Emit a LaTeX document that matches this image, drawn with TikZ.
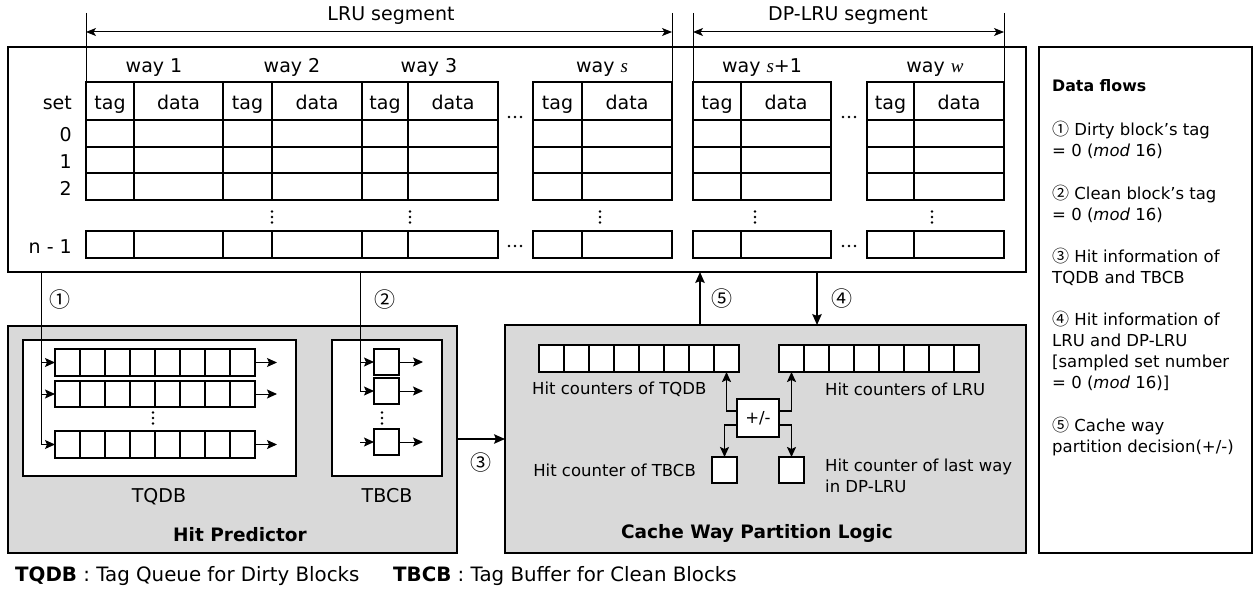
\documentclass[tikz,border=0pt]{standalone}
\usepackage{fontspec}
\setmainfont{DejaVu Sans}
\newfontfamily\serifitalic{Liberation Serif}
\newfontfamily\cjk{Noto Sans CJK KR}
\usetikzlibrary{arrows.meta,fit}
\definecolor{panelgray}{HTML}{D9D9D9}
\newcommand\mybox[6][]{%
  \path (#3,#4) coordinate (#2-nw) (#5,#6) coordinate (#2-se);
  \node[inner sep=0pt, outer sep=0pt, fit=(#2-nw)(#2-se), #1] (#2) {};}
\newcommand\cellrow[6]{% name, x, y, n, w, h
  \pgfmathsetmacro\cre{#2+#4*#5}%
  \pgfmathsetmacro\crb{#3+#6}%
  \pgfmathtruncatemacro\crn{#4-1}%
  \mybox[cellbox]{#1}{#2}{#3}{\cre}{\crb}
  \foreach \k in {1,...,\crn} {\draw[boxline] ({#2+\k*#5},#3) -- ({#2+\k*#5},\crb);}
}
\newcommand\cacheway[3]{% xleft, xsplit, xright
  \draw[boxline] (#1,82) rectangle (#3,200);
  \foreach \yy in {120,147,173} {\draw[boxline] (#1,\yy) -- (#3,\yy);}
  \draw[boxline] (#2,82) -- (#2,200);
  \draw[boxline] (#1,231) rectangle (#3,258);
  \draw[boxline] (#2,231) -- (#2,258);
  \node[tbl] at ({(#1+#2)/2},110) {tag};
  \node[tbl] at ({(#2+#3)/2},110) {data};
}
\newcommand\hdotsat[2]{\foreach \dd in {-6,0,6} {\fill ({#1+\dd},#2) circle (1.3pt);}}
\newcommand\vdotsat[2]{\foreach \dd in {-5.5,0,5.5} {\fill (#1,{#2+\dd}) circle (1.3pt);}}
\newcommand\cnum[1]{{\cjk\fontsize{17}{20}\selectfont #1}}
\begin{document}
\begin{tikzpicture}[x=1pt,y=-1pt,
  boxline/.style={line width=1.7pt},
  cellbox/.style={draw, line width=1.7pt, fill=white},
  frame/.style={draw, line width=1.6pt},
  thinline/.style={line width=1pt},
  arr/.style={line width=1pt, -{Stealth[length=10pt,width=9pt,inset=2pt]}},
  arrb/.style={line width=1.3pt, -{Stealth[length=11pt,width=9.5pt,inset=2pt]}},
  arrc/.style={line width=1.7pt, -{Stealth[length=10pt,width=9pt,inset=2pt]}},
  segarr/.style={line width=1pt, {Stealth[length=10pt,width=8pt,inset=2.5pt]}-{Stealth[length=10pt,width=8pt,inset=2.5pt]}},
  tbl/.style={font=\fontsize{19}{22}\selectfont, inner sep=0pt, anchor=base},
  lo/.style={font=\fontsize{16.5}{20}\selectfont, inner sep=0pt},
  ttl/.style={font=\fontsize{18.5}{22}\selectfont\bfseries, inner sep=0pt, anchor=base},
  num/.style={font=\cjk\fontsize{21}{22}\selectfont, inner sep=0pt},
  rp/.style={font=\fontsize{16.5}{20}\selectfont, inner sep=0pt, anchor=base west},
  leg/.style={font=\fontsize{19.8}{22}\selectfont, inner sep=0pt, anchor=base west}]
\fill[white] (0,0) rectangle (1253,591);
\useasboundingbox (0,0) rectangle (1253,591);

% ---- segment markers ----
\coordinate (e1t) at (86,13);  \coordinate (e1b) at (86,82);
\coordinate (e2t) at (672,13); \coordinate (e2b) at (672,82);
\coordinate (e3t) at (693,13); \coordinate (e3b) at (693,82);
\coordinate (e4t) at (1004,13);\coordinate (e4b) at (1004,82);
\draw[thinline] (e1t) -- (e1b);
\draw[thinline] (e2t) -- (e2b);
\draw[thinline] (e3t) -- (e3b);
\draw[thinline] (e4t) -- (e4b);
\coordinate (s1a) at (86,32);  \coordinate (s1b) at (672,32);
\coordinate (s2a) at (693,32); \coordinate (s2b) at (1004,32);
\draw[segarr] (s1a) -- (s1b);
\draw[segarr] (s2a) -- (s2b);
\node[tbl] (lruseg) at (391,21) {LRU segment};
\node[tbl] (dpseg) at (848,21) {DP-LRU segment};

% ---- cache ----
\mybox[frame]{cache}{8}{47}{1026}{272}
\cacheway{86}{134}{223}
\cacheway{223}{272}{362}
\cacheway{362}{408}{498}
\cacheway{533}{582}{672}
\cacheway{693}{741}{831}
\cacheway{867}{914}{1004}
\node[tbl] (w1) at (154,73) {way 1};
\node[tbl] (w2) at (292,73) {way 2};
\node[tbl] (w3) at (429,73) {way 3};
\node[tbl] (ws) at (602,73) {way {\serifitalic\itshape s}};
\node[tbl] (ws1) at (762,73) {way {\serifitalic\itshape s}+1};
\node[tbl] (ww) at (935,73) {way {\serifitalic\itshape w}};
\node[tbl, anchor=base east] (setl) at (72,110) {set};
\node[tbl, anchor=base east] (r0) at (72,141.7) {0};
\node[tbl, anchor=base east] (r1) at (72,168.3) {1};
\node[tbl, anchor=base east] (r2) at (72,195) {2};
\node[tbl, anchor=base east] (rn) at (72,253.3) {n - 1};
\hdotsat{515}{117}
\hdotsat{515}{246}
\hdotsat{849}{117}
\hdotsat{849}{246}
\vdotsat{272}{217}
\vdotsat{410}{217}
\vdotsat{600}{217}
\vdotsat{755}{217}
\vdotsat{932}{217}

% ---- data flows panel ----
\mybox[frame]{flows}{1039}{47}{1252}{553}
\node[rp, font=\fontsize{15.8}{20}\selectfont\bfseries] (dft) at (1052,91.7) {Data flows};
\node[rp] (f1a) at (1052,136) {\cnum{①} Dirty block’s tag};
\node[rp] (f1b) at (1052,157) {= 0 (\textit{mod} 16)};
\node[rp] (f2a) at (1052,199) {\cnum{②} Clean block’s tag};
\node[rp] (f2b) at (1052,220) {= 0 (\textit{mod} 16)};
\node[rp] (f3a) at (1052,262) {\cnum{③} Hit information of};
\node[rp] (f3b) at (1052,283) {TQDB and TBCB};
\node[rp] (f4a) at (1052,325) {\cnum{④} Hit information of};
\node[rp] (f4b) at (1052,346) {LRU and DP-LRU};
\node[rp] (f4c) at (1052,367) {[sampled set number};
\node[rp] (f4d) at (1052,388) {= 0 (\textit{mod} 16)]};
\node[rp] (f5a) at (1052,431) {\cnum{⑤} Cache way};
\node[rp] (f5b) at (1052,452) {partition decision(+/-)};

% ---- hit predictor ----
\mybox[frame, fill=panelgray]{hp}{8}{326}{457}{553}
\mybox[frame, fill=white]{tqdb}{23}{340}{296}{476}
\mybox[frame, fill=white]{tbcb}{332}{340}{442}{476}
\cellrow{qa}{55}{349}{8}{25}{27}
\cellrow{qb}{55}{381}{8}{25}{26}
\cellrow{qc}{55}{431}{8}{25}{27}
\vdotsat{153}{418}
\mybox[cellbox]{ba}{374}{349}{399}{375}
\mybox[cellbox]{bb}{374}{378}{399}{404}
\mybox[cellbox]{bc}{374}{429}{399}{455}
\vdotsat{382}{418}
\node[tbl] (tqdbl) at (159,502.7) {TQDB};
\node[tbl] (tbcbl) at (387,502.7) {TBCB};
\node[ttl] (hpl) at (240,541) {Hit Predictor};

\coordinate (x1) at (41,0);
\draw[arr] (cache.south -| x1) |- (qc.west);
\draw[arr] (qa.west -| x1) -- (qa.west);
\draw[arr] (qb.west -| x1) -- (qb.west);
\draw[arr] (qa.east) -- ++(22,0);
\draw[arr] (qb.east) -- ++(22,0);
\draw[arr] (qc.east) -- ++(22,0);
\coordinate (x2) at (360,0);
\draw[arr] (cache.south -| x2) |- (bb.west);
\draw[arr] (ba.west -| x2) -- (ba.west);
\draw[arr] (bc.west -| x2) -- (bc.west);
\draw[arr] (ba.east) -- ++(24,0);
\draw[arr] (bb.east) -- ++(24,0);
\draw[arr] (bc.east) -- ++(24,0);
\node[num] (n1) at (60,300) {①};
\node[num] (n2) at (385,300) {②};

% ---- cache way partition logic ----
\mybox[frame, fill=panelgray]{cwpl}{505}{325}{1026}{553}
\cellrow{ctq}{539}{345}{8}{25}{27}
\cellrow{clr}{779}{345}{8}{25}{27}
\node[lo, anchor=base west] (ctql) at (532,394) {Hit counters of TQDB};
\node[lo, anchor=base west] (clrl) at (825,395) {Hit counters of LRU};
\mybox[cellbox]{pm}{737}{399}{779}{437}
\node[lo] (pmt) at (pm) {+/-};
\mybox[cellbox]{ct}{712}{457}{737}{483}
\mybox[cellbox]{cl}{779}{457}{804}{483}
\node[lo, anchor=base east] (ctl) at (696,476.7) {Hit counter of TBCB};
\node[lo, anchor=base west] (cll1) at (825,471.7) {Hit counter of last way};
\node[lo, anchor=base west] (cll2) at (825,492.3) {in DP-LRU};
\draw[arrc] ([yshift=7pt]pm.west) -| ([xshift=-12.5pt]ctq.south east);
\draw[arrc] ([yshift=7pt]pm.east) -| ([xshift=12.5pt]clr.south west);
\draw[arrc] ([yshift=-7pt]pm.west) -| (ct.north);
\draw[arrc] ([yshift=-7pt]pm.east) -| (cl.north);
\node[ttl] (cwl) at (757,538) {Cache Way Partition Logic};

% ---- flows between blocks ----
\coordinate (y3) at (0,439);
\draw[arrb] (hp.east |- y3) -- (cwpl.west |- y3);
\node[num] (n3) at (481,463) {③};
\coordinate (x5) at (700,0);
\draw[arrb] (cwpl.north -| x5) -- (cache.south -| x5);
\node[num] (n5) at (722,299) {⑤};
\coordinate (x4) at (817,0);
\draw[arrb] (cache.south -| x4) -- (cwpl.north -| x4);
\node[num] (n4) at (842,299) {④};

% ---- legend ----
\node[leg] (leg1) at (15,581) {\textbf{TQDB} : Tag Queue for Dirty Blocks};
\node[leg] (leg2) at (393,581) {\textbf{TBCB} : Tag Buffer for Clean Blocks};
\end{tikzpicture}
\end{document}
